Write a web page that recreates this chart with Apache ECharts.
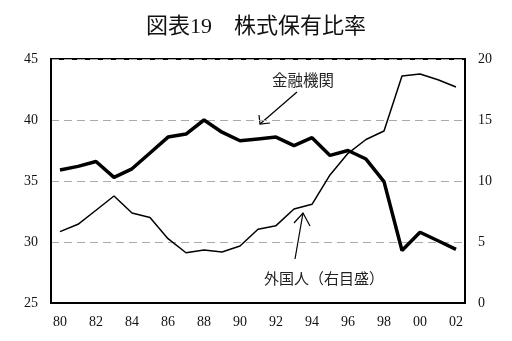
<!DOCTYPE html>
<html>
<head>
<meta charset="utf-8">
<script src="https://cdn.jsdelivr.net/npm/echarts@6/dist/echarts.min.js"></script>
<style>html,body{margin:0;padding:0;background:#fff;}#c{width:512px;height:341px;}</style>
</head>
<body>
<div id="c"></div>
<script>
const years = ['80','81','82','83','84','85','86','87','88','89','90','91','92','93','94','95','96','97','98','99','00','01','02'];
const financial = [35.9,36.2,36.6,35.3,36.0,37.3,38.6,38.85,40.0,39.0,38.3,38.45,38.6,37.9,38.55,37.1,37.5,36.8,34.95,29.3,30.8,30.1,29.4];
const foreign = [5.85,6.45,7.6,8.77,7.38,7.0,5.27,4.12,4.34,4.18,4.67,6.05,6.34,7.7,8.09,10.5,12.27,13.4,14.1,18.6,18.77,18.3,17.7];
const leftTicks = {min:25, max:45, interval:5};
const rightTicks = {min:0, max:20, interval:5};
const titleText = '図表19　株式保有比率';
const label1 = '金融機関';
const label2 = '外国人（右目盛）';

const serif = '"Liberation Serif", "DejaVu Serif", "Noto Sans CJK JP", serif';
const chart = echarts.init(document.getElementById('c'));
chart.setOption({
  animation:false,
  backgroundColor:'#fff',
  title:{text:titleText,left:251,top:11,textAlign:'center',textStyle:{fontFamily:serif,fontSize:22,fontWeight:'normal',color:'#111'}},
  grid:{left:51,right:47,top:59,bottom:38,show:true,borderColor:'#000',borderWidth:2,backgroundColor:'transparent'},
  xAxis:{type:'category',data:years,boundaryGap:true,
    axisLine:{lineStyle:{color:'#000',width:2}},
    axisTick:{inside:true,length:5,interval:0,lineStyle:{color:'#aaa'}},
    axisLabel:{interval:1,margin:12,fontFamily:serif,fontSize:14,color:'#111'}},
  yAxis:[
    {type:'value',min:leftTicks.min,max:leftTicks.max,interval:leftTicks.interval,
     axisLine:{show:true,lineStyle:{color:'#000',width:2}},axisTick:{show:false},
     axisLabel:{margin:13,fontFamily:serif,fontSize:14,color:'#111'},
     splitLine:{show:true,lineStyle:{color:'#aaa',type:[8,5],width:1}}},
    {type:'value',min:rightTicks.min,max:rightTicks.max,interval:rightTicks.interval,position:'right',
     axisLine:{show:true,lineStyle:{color:'#000',width:2}},axisTick:{show:false},
     axisLabel:{margin:13,fontFamily:serif,fontSize:14,color:'#111'},
     splitLine:{show:false}}
  ],
  series:[
    {name:label2,type:'line',yAxisIndex:1,data:foreign,showSymbol:false,symbol:'none',lineStyle:{color:'#000',width:1.5}},
    {name:label1,type:'line',yAxisIndex:0,data:financial,showSymbol:false,symbol:'none',lineStyle:{color:'#000',width:3.5}}
  ],
  graphic:[
    {type:'text',left:272,top:72,style:{text:label1,font:'15.5px "Noto Sans CJK JP"',fill:'#222'}},
    {type:'polyline',shape:{points:[[297,92],[260,124]]},style:{stroke:'#000',lineWidth:1.2,fill:null}},
    {type:'polyline',shape:{points:[[259,115],[260,124],[270,123]]},style:{stroke:'#000',lineWidth:1.2,fill:null}},
    {type:'text',left:264,top:271,style:{text:label2,font:'15px "Noto Sans CJK JP"',fill:'#222'}},
    {type:'polyline',shape:{points:[[295,259],[303,213]]},style:{stroke:'#000',lineWidth:1.2,fill:null}},
    {type:'polyline',shape:{points:[[294,223],[303,213],[310,226]]},style:{stroke:'#000',lineWidth:1.2,fill:null}}
  ]
});
</script>
</body>
</html>
